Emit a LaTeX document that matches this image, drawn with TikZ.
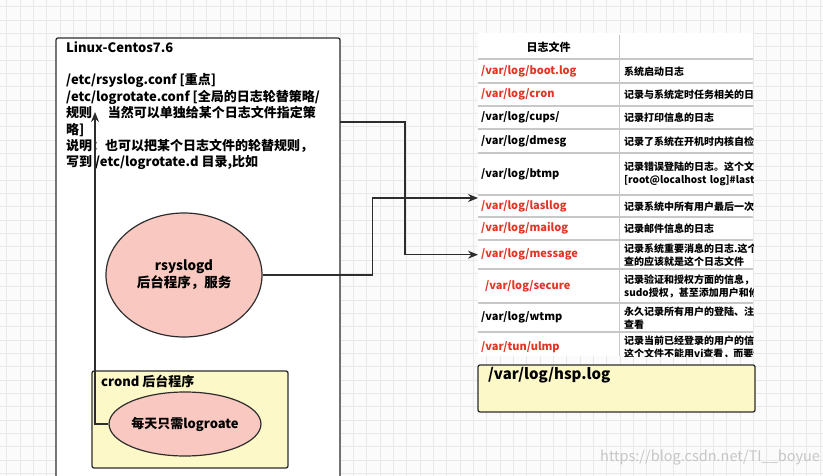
\documentclass[tikz,border=0pt]{standalone}
\usepackage{fontspec}
\setmainfont{Noto Sans CJK SC}
\usetikzlibrary{shapes.geometric,arrows.meta}

\definecolor{gridgray}{RGB}{232,232,236}
\definecolor{pagebg}{RGB}{251,251,252}
\definecolor{edgedark}{RGB}{45,45,45}
\definecolor{pinkfill}{RGB}{249,201,193}
\definecolor{lemonfill}{RGB}{253,248,199}
\definecolor{logred}{RGB}{228,52,38}
\definecolor{rulegray}{RGB}{200,200,200}

\tikzset{
  box/.style={draw=edgedark, line width=1.3pt, rounded corners=2pt, inner sep=0pt, outer sep=0pt},
  bubble/.style={ellipse, draw=edgedark, line width=1.2pt, fill=pinkfill, inner sep=0pt, align=center, font=\bfseries\fontsize{13.5}{17}\selectfont},
  conn/.style={draw=edgedark, line width=1.2pt, -{Stealth[length=10pt,width=8pt]}},
  pathcell/.style={anchor=north west, minimum width=141pt, text width=135pt, inner xsep=3pt, inner ysep=0pt, align=left, font=\bfseries\fontsize{11}{13}\selectfont},
  desccell/.style={anchor=north west, text width=220pt, inner xsep=5pt, inner ysep=0pt, align=left, font=\bfseries\fontsize{10}{13}\selectfont},
  rowline/.style={draw=rulegray, line width=1.5pt}
}

\begin{document}
\begin{tikzpicture}[x=1pt,y=-1pt]
    \useasboundingbox (0,0) rectangle (823,476);
    \clip (0,0) rectangle (823,476);
    \fill[pagebg] (0,0) rectangle (823,476);
    \foreach \g in {0,...,61} \draw[gridgray, line width=0.6pt] ({6.67+13.333*\g},0) -- ++(0,476);
    \foreach \g in {0,...,35} \draw[gridgray, line width=0.6pt] (0,{6.67+13.333*\g}) -- ++(823,0);

    % left: the server
    \node[box, fill=white, minimum width=284pt, minimum height=460pt, anchor=north west] (mainbox) at (56,38) {};
    \node[anchor=north west, align=left, inner sep=0pt, font=\bfseries\fontsize{13}{16.4}\selectfont] (conftext) at (66,41) {Linux-Centos7.6\\[16.4pt]
    /etc/rsyslog.conf [重点]\\
    /etc/logrotate.conf [全局的日志轮替策略/\\
    规则\hspace{1.2em}当然可以单独给某个日志文件指定策\\
    略]\\
    说明：也可以把某个日志文件的轮替规则，\\
    写到 /etc/logrotate.d 目录,比如};

    \node[bubble, minimum width=156pt, minimum height=124pt] (rsys) at (184,275) {rsyslogd\\后台程序，服务};

    \node[box, fill=lemonfill, minimum width=196pt, minimum height=97pt, anchor=north west] (crond) at (92,371) {};
    \node[anchor=west, inner sep=0pt, font=\bfseries\fontsize{13}{16}\selectfont] (crondlabel) at (101,381) {crond 后台程序};
    \node[bubble, minimum width=130pt, minimum height=64pt, font=\bfseries\fontsize{13}{16}\selectfont] (daily) at (185,424) {每天只需logroate};

    % right: the log table
    \fill[white] (478,33) rectangle (753,356);
    \begin{scope}
    \clip (478,33) rectangle (753,356);
    \node[pathcell, minimum height=24pt, align=center] (head) at (478,35) {日志文件};
    \draw[rowline] (478,59) -- (753,59);
    \draw[rulegray, line width=1pt] (619,35) -- (619,356);
    \foreach \rn/\ya/\yb/\col/\fname/\desc in {
        boot/59/83/logred/{/var/log/boot.log}/{系统启动日志},
        cron/83/106/logred/{/var/log/cron}/{记录与系统定时任务相关的日志},
        cups/106/129/black/{/var/log/cups/}/{记录打印信息的日志},
        dmesg/129/153/black/{/var/log/dmesg}/{记录了系统在开机时内核自检的信息},
        btmp/153/195/black/{/var/log/btmp}/{记录错误登陆的日志。这个文件\\{}[root@localhost log]\#lastb},
        lasl/195/217/logred/{/var/log/lasllog}/{记录系统中所有用户最后一次登录},
        mail/217/240/logred/{/var/log/mailog}/{记录邮件信息的日志},
        msg/240/269/logred/{/var/log/message}/{记录系统重要消息的日志.这个日\\查的应该就是这个日志文件},
        secure/269/303/logred/{\hspace{4pt}/var/log/secure}/{记录验证和授权方面的信息，只要\\sudo授权，甚至添加用户和修改},
        wtmp/303/332/black/{/var/log/wtmp}/{永久记录所有用户的登陆、注销\\查看},
        ulmp/332/362/logred/{/var/tun/ulmp}/{记录当前已经登录的用户的信息\\这个文件不能用vi查看，而要使用}}
    {
        \node[pathcell, text=\col, minimum height={(\yb-\ya)*1pt}] (r-\rn) at (478,\ya) {\fname};
        \node[desccell, minimum height={(\yb-\ya)*1pt}] (d-\rn) at (619,\ya) {\desc};
        \draw[rowline] (478,\yb) -- (753,\yb);
    }
    \end{scope}

    \node[box, fill=lemonfill, minimum width=277pt, minimum height=47pt, anchor=north west] (hsp) at (478,365) {};
    \node[anchor=west, inner sep=0pt, font=\bfseries\fontsize{15}{18}\selectfont] (hsplabel) at (488,375) {/var/log/hsp.log};

    \coordinate (c1) at (340,122);
    \coordinate (c3) at (95,112);
    \draw[conn] (c1) -- ++(65,0) |- (r-msg.west);
    \draw[conn] (rsys.east) -- ++(110,0) |- ([yshift=-3pt]r-lasl.north west);
    \draw[conn] (daily.west) -| (c3);

    \node[anchor=west, inner sep=0pt, text=gray!45, font=\fontsize{14.5}{16}\selectfont] (mark) at (600,458) {https://blog.csdn.net/TI\_\_boyue};
\end{tikzpicture}
\end{document}
